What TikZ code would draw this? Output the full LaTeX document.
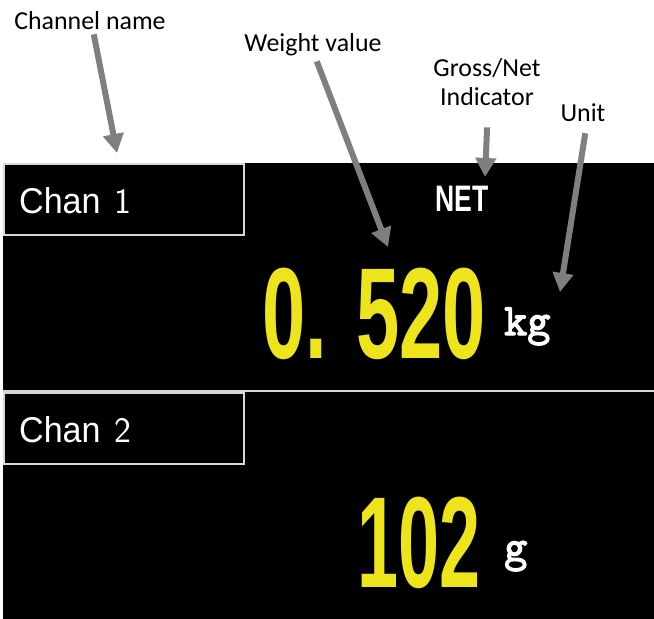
\documentclass[tikz,border=0pt]{standalone}
\usepackage{fontspec}
\setmainfont{Carlito}
\newfontfamily\lcdfont{Liberation Sans}
\newfontfamily\unitfont{Latin Modern Mono}[FakeBold=3]
\usetikzlibrary{arrows.meta,positioning}
\definecolor{arrowgray}{RGB}{127,127,127}
\definecolor{lcdyellow}{RGB}{238,228,28}
\definecolor{framegray}{RGB}{215,215,215}

\begin{document}
\begin{tikzpicture}[
  x=1bp, y=-1bp,
  font=\fontsize{26}{30}\selectfont,
  every node/.style={inner sep=0pt},
  callout/.style={text=black, align=center},
  pointer/.style={draw=arrowgray, line width=6bp, -{Triangle[length=19bp,width=20bp]}},
  chanbox/.style={draw=framegray, line width=1.6bp, anchor=north west, minimum width=240bp, minimum height=71bp},
  chantext/.style={text=white, anchor=base west, font=\lcdfont\fontsize{36}{36}\selectfont},
  bigdigits/.style={text=lcdyellow, anchor=base east, font=\lcdfont\bfseries\fontsize{130}{130}\selectfont},
  unittext/.style={text=white, anchor=base west, font=\unitfont\fontsize{45}{45}\selectfont}
]
\useasboundingbox (0,0) rectangle (654,619);

% display
\fill[black] (3,163) rectangle (654,619);
\node[chanbox] (box1) at (3,163) {};
\node[chanbox] (box2) at (3,392) {};
\draw[framegray, line width=1.8bp] (3,391) -- (654,391);

\node[chantext] (chan1) at (19,213) {\scalebox{0.95}[1]{Chan}\hspace{14bp}{\sffamily 1}};
\node[chantext] (chan2) at (19,442) {\scalebox{0.95}[1]{Chan}\hspace{14bp}{\sffamily 2}};
\node[text=white, anchor=base, font=\lcdfont\bfseries\fontsize{37}{37}\selectfont] (net) at (462,211) {\scalebox{0.72}[1]{NET}};

\node[bigdigits] (val1) at (486,358) {\scalebox{0.6}[1]{0. 520}};
\node[bigdigits] (val2) at (481,587) {\scalebox{0.57}[1]{102}};
\node[unittext] (unit1) at (504,335) {kg};
\node[unittext] (unit2) at (504,561) {g};

% callouts
\node[callout, anchor=base] (chname) at (90,30) {Channel name};
\node[callout, anchor=base] (wtval) at (313,52) {Weight value};
\node[callout, anchor=base] (gnind) at (487,106) {Gross/Net\\Indicator};
\node[callout, anchor=base] (unitlbl) at (583,122) {Unit};

\coordinate (chtip) at (117,153);
\coordinate (wttip) at (388,247);
\coordinate (gntip) at (485,177);
\coordinate (untip) at (560,292);

\draw[pointer, shorten <=4bp] ([xshift=3bp]chname.south) -- (chtip);
\draw[pointer, shorten <=5bp] ([xshift=2bp]wtval.south) -- (wttip);
\draw[pointer, shorten <=21bp] ([xshift=1bp]gnind.south) -- (gntip);
\draw[pointer, shorten <=11bp] ([xshift=4bp]unitlbl.south) -- (untip);
\end{tikzpicture}
\end{document}
